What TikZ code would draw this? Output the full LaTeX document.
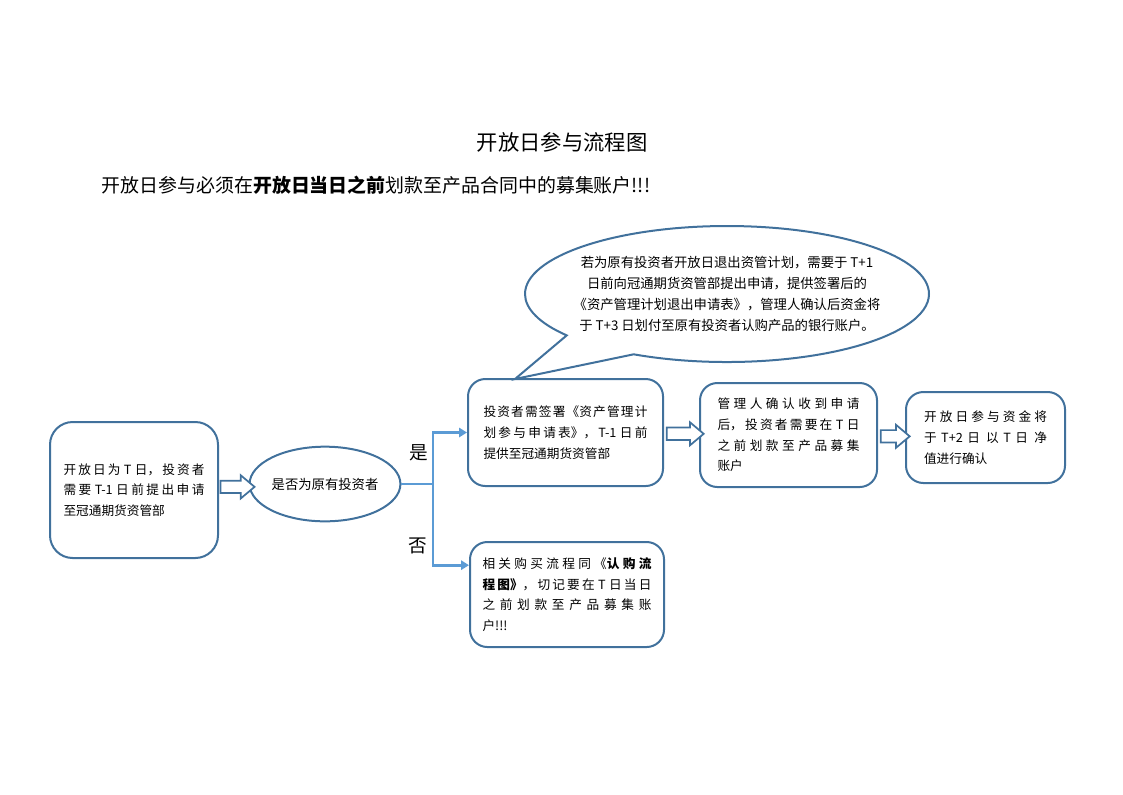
\documentclass[tikz,border=0pt]{standalone}
\usepackage{fontspec}
\setmainfont{Noto Sans CJK SC}
\usetikzlibrary{positioning,shapes.geometric,shapes.arrows,shapes.callouts,arrows.meta}
\XeTeXlinebreaklocale "zh"
\XeTeXlinebreakskip=0pt plus 4pt
\tolerance=9999
\hbadness=10000
\definecolor{boxblue}{HTML}{41719C}
\definecolor{linkblue}{HTML}{5B9BD5}
\tikzset{flow box/.style={rectangle,rounded corners=13pt,draw=boxblue,line width=1.5pt,inner sep=0pt,align=justify,font=\fontsize{9.5}{15.5}\selectfont},
  hollow arrow/.style={single arrow,draw=boxblue,fill=white,line width=1.3pt,inner sep=4pt,single arrow head extend=4pt,single arrow tip angle=80},
  branch/.style={draw=linkblue,line width=2pt},}

\begin{document}
\begin{tikzpicture}[x=0.75pt,y=-0.75pt]
   \useasboundingbox (0,0) rectangle (1123,794);
   \node (title) at (562,142) {\fontsize{16}{18}\selectfont 开放日参与流程图};
   \node[anchor=west,font=\fontsize{14.2}{16}\selectfont] (note) at (97,185) {开放日参与必须在\textbf{开放日当日之前}划款至产品合同中的募集账户!!!};

   \node[flow box,rounded corners=17pt,minimum width=126pt,minimum height=102pt,text width=105.75pt] (start) at (134,490)
     {开放日为 T 日，投资者\linebreak 需要 T-1 日前提出申请\linebreak 至冠通期货资管部};
   \node[ellipse,draw=boxblue,line width=1.5pt,inner sep=0pt,minimum width=108pt,minimum height=56pt,font=\fontsize{10}{12}\selectfont] (old) at (325,484) {是否为原有投资者};
   \node[ellipse callout,draw=boxblue,line width=1.5pt,fill=white,inner xsep=-20pt,inner ysep=0pt,minimum width=303pt,minimum height=102pt,
     callout absolute pointer={(515,379)},callout pointer arc=25,align=center,font=\fontsize{10}{15.75}\selectfont] (exit) at (727,294)
     {若为原有投资者开放日退出资管计划，需要于 T+1\\日前向冠通期货资管部提出申请，提供签署后的\\《资产管理计划退出申请表》，管理人确认后资金将\\于 T+3 日划付至原有投资者认购产品的银行账户。};
   \node[flow box,minimum width=146.25pt,minimum height=80.25pt,text width=123pt] (sign) at (565.5,432.5)
     {投资者需签署《资产管理计\linebreak 划参与申请表》，T-1 日前\linebreak 提供至冠通期货资管部};
   \node[flow box,minimum width=132.75pt,minimum height=78pt,text width=106.5pt] (confirm) at (788.5,435)
     {管理人确认收到申请\linebreak 后，投资者需要在 T 日\linebreak 之前划款至产品募集\linebreak 账户};
   \node[flow box,minimum width=119.25pt,minimum height=68.25pt,text width=92.25pt] (net) at (985.5,437.5)
     {开放日参与资金将\linebreak 于 T+2 日以 T 日净\linebreak 值进行确认};
   \node[flow box,minimum width=145.5pt,minimum height=78.75pt,text width=126.75pt] (plan) at (567,594.5)
     {相关购买流程同《\textbf{认购流}\linebreak \textbf{程图》}，切记要在 T 日当日\linebreak 之前划款至产品募集账\linebreak 户!!!};

   % hollow arrows
   \path (start) -- node[hollow arrow,minimum height=25.5pt] (s2o) {} (old);
   \path (sign) -- node[hollow arrow,minimum height=27.75pt] (s2c) {} (confirm);
   \path (confirm) -- node[hollow arrow,minimum height=21.75pt] (c2n) {} (net);

   % yes / no branch
   \coordinate (fork) at (433,484);
   \draw[branch] (old.east) -- (fork);
   \draw[branch,-{Triangle[length=6pt,width=7pt]}] (fork) |- (sign.west);
   \draw[branch,-{Triangle[length=6pt,width=7pt]}] (fork) |- ([yshift=22pt]plan.west);
   \node[font=\fontsize{14}{16}\selectfont] (yes) at (419,453) {是};
   \node[font=\fontsize{14}{16}\selectfont] (no) at (418,546) {否};
  \end{tikzpicture}
\end{document}
